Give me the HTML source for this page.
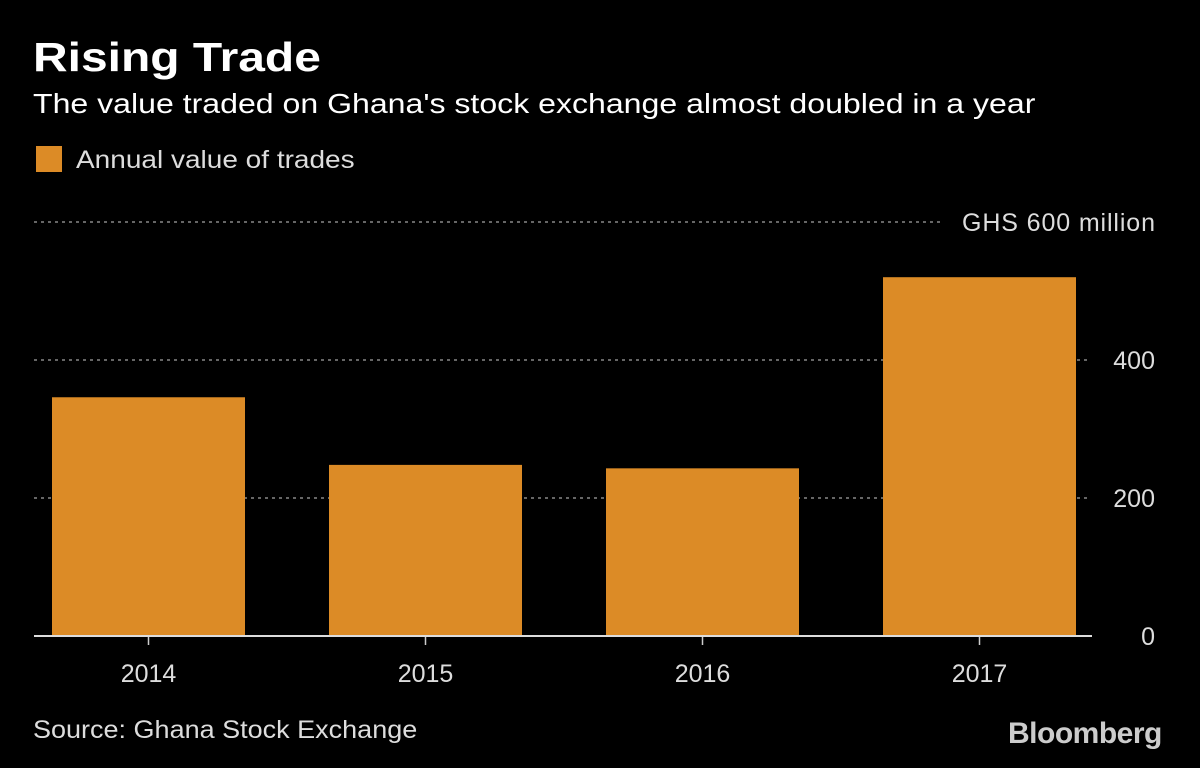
<!DOCTYPE html>
<html><head><meta charset="utf-8"><style>
body{margin:0;background:#000;width:1200px;height:768px;overflow:hidden;font-family:"Liberation Sans",sans-serif;color:#fff}
.t{position:absolute;white-space:nowrap;transform-origin:left top}
</style></head><body>
<div class="t" style="left:33px;top:34px;font-size:41px;font-weight:bold;transform:scaleX(1.17)">Rising Trade</div>
<div class="t" style="left:33px;top:88px;font-size:28px;transform:scaleX(1.145)">The value traded on Ghana's stock exchange almost doubled in a year</div>
<div class="t" style="left:36px;top:146px;font-size:25px;color:#ddd"><span style="display:inline-block;width:26px;height:26px;background:#dc8b26;vertical-align:-4px;margin-right:14px"></span><span style="display:inline-block;transform:scaleX(1.12);transform-origin:left">Annual value of trades</span></div>
<svg id="c" width="1200" height="768" style="position:absolute;left:0;top:0"></svg>
<div class="t" style="left:33px;top:716px;font-size:25px;color:#ddd;transform:scaleX(1.08)">Source: Ghana Stock Exchange</div>
<div class="t" style="left:1008px;top:717px;font-size:30px;font-weight:bold;color:#ccc;letter-spacing:-0.5px">Bloomberg</div>
<script>
const categories=["2014","2015","2016","2017"];
const values=[346,248,243,520];
const ticks=[0,200,400,600];
const tickLabels=["0","200","400","GHS 600 million"];
const svg=document.getElementById('c');const NS='http://www.w3.org/2000/svg';
const y=v=>636-v*0.69;
const x0=52,step=277,bw=193;
const xc=i=>x0+i*step+bw/2;
function mk(t,a){const e=document.createElementNS(NS,t);for(const k in a)e.setAttribute(k,a[k]);svg.appendChild(e);return e;}
ticks.forEach((v,i)=>{
 if(v>0){const l=mk('line',{x1:34,x2:i==3?940:1090,y1:y(v),y2:y(v),stroke:'#888','stroke-width':1.5,'stroke-dasharray':'3,4'});
 
 }
 const t=mk('text',{x:1155,y:y(v)+9,'text-anchor':'end','font-size':25,fill:'#ddd','font-family':'Liberation Sans'});
 if(i==3)t.setAttribute('textLength',193);
 t.textContent=tickLabels[i];
 
 
});
values.forEach((v,i)=>{
 const r=mk('rect',{x:x0+i*step,y:y(v),width:bw,height:636-y(v),fill:'#dc8b26'});
 
 
 const tk=mk('line',{x1:xc(i),x2:xc(i),y1:636,y2:645,stroke:'#ccc','stroke-width':1.5});
 
 
 const t=mk('text',{x:xc(i),y:682,'text-anchor':'middle','font-size':25,fill:'#ddd','font-family':'Liberation Sans'});
 t.textContent=categories[i];
 
 
});
const ax=mk('line',{x1:34,x2:1092,y1:636,y2:636,stroke:'#ddd','stroke-width':2});


</script>
</body></html>
